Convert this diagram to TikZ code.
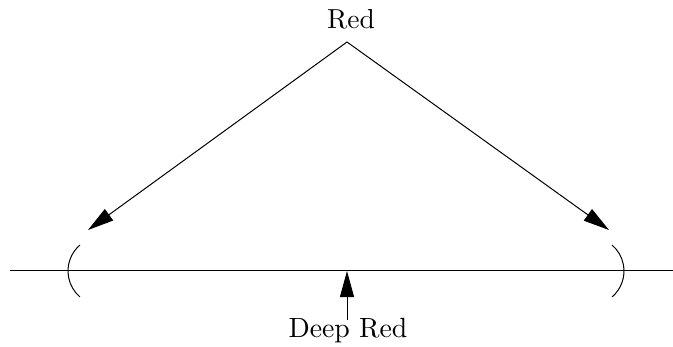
\documentclass[tikz,border=0pt]{standalone}
\usetikzlibrary{arrows.meta,calc}
\begin{document}
\begin{tikzpicture}[x=1pt,y=1pt,line width=1pt,
  tri/.style={-{Triangle[length=26pt,width=14pt]}},
  lbl/.style={inner sep=0pt,anchor=base}]
\useasboundingbox (0,0) rectangle (673,346);
\node[lbl] (red) at (351,317) {\scalebox{2.75}{Red}};
\node[lbl] (deep) at (348,9) {\scalebox{2.78}{Deep Red}};
\coordinate (apex) at (347,304);
\coordinate (lt) at (88,116);
\coordinate (rt) at (609,116);
\coordinate (mid) at (347,75);
\coordinate (tail) at (347,26);
\coordinate (l0) at (10,75);
\coordinate (r0) at (673,75);
\coordinate (lc) at (102.2,75);
\coordinate (rc) at (589.8,75);
\draw (l0) -- (r0);
\draw[tri] (apex) -- (lt);
\draw[tri] (apex) -- (rt);
\draw[tri] (tail) -- (mid);
\draw ($(lc)+(130.5:34.2)$) arc[start angle=130.5,end angle=229.5,radius=34.2];
\draw ($(rc)+(-49.5:34.2)$) arc[start angle=-49.5,end angle=49.5,radius=34.2];
\end{tikzpicture}
\end{document}
